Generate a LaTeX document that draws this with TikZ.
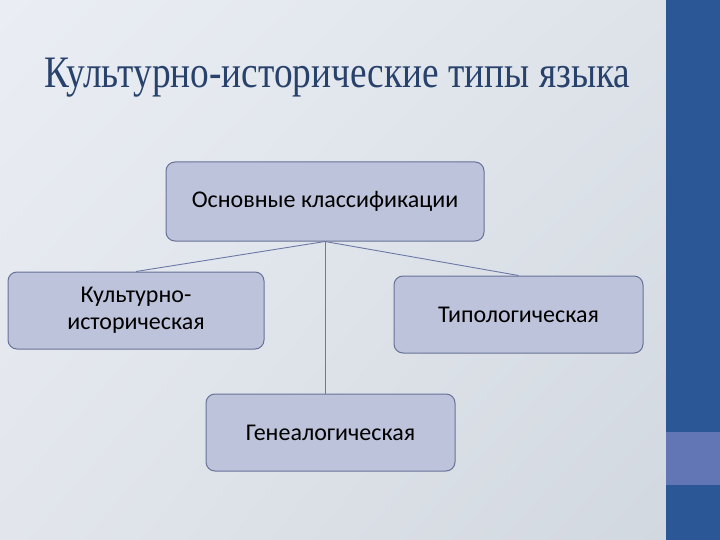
\documentclass[tikz,border=0pt]{standalone}
\usepackage{fontspec}
\usetikzlibrary{shadings}
\setmainfont{Carlito}
\newfontfamily\titlefont{Liberation Serif}

\definecolor{bgtl}{RGB}{234,238,244}
\definecolor{bgtr}{RGB}{222,227,234}
\definecolor{bgbl}{RGB}{226,230,236}
\definecolor{bgbr}{RGB}{210,216,224}
\definecolor{barblue}{RGB}{43,87,151}
\definecolor{barlight}{RGB}{98,117,181}
\definecolor{titleblue}{RGB}{40,66,108}
\definecolor{boxfill}{RGB}{189,195,218}
\definecolor{boxline}{RGB}{104,114,152}
\definecolor{linkline}{RGB}{108,120,166}

\tikzset{
  klass/.style={draw=boxline, fill=boxfill, rounded corners=9pt, line width=1pt,
    inner sep=0pt, align=center, font=\fontsize{24}{27}\selectfont},
  link/.style={draw=linkline, line width=0.9pt}
}

\begin{document}
\begin{tikzpicture}[x=1pt,y=-1pt]
\shade[upper left=bgtl, upper right=bgtr, lower left=bgbl, lower right=bgbr]
  (0,0) rectangle (666,540);
\fill[barblue] (666,0) rectangle (720,540);
\fill[barlight] (666,432) rectangle (720,485);
\useasboundingbox (0,0) rectangle (720,540);

\node[anchor=base west, inner sep=0pt, text=titleblue,
  font=\titlefont\fontsize{45}{50}\selectfont] (title) at (44,88)
  {\resizebox{586pt}{\height}{Культурно-исторические типы языка}};

\node[klass, minimum width=318pt, minimum height=79pt] (osn) at (325,201.5)
  {Основные классификации};
\node[klass, minimum width=256pt, minimum height=77pt] (kult) at (136,310.5)
  {Культурно-\\историческая};
\node[klass, minimum width=249pt, minimum height=77pt] (tip) at (518.5,314.5)
  {Типологическая};
\node[klass, minimum width=249pt, minimum height=77pt] (gen) at (330.5,432.5)
  {Генеалогическая};

\draw[link] (osn.south) -- (kult.north);
\draw[link] (osn.south) -- (tip.north);
\draw[link] (osn.south) -- (osn.south |- gen.north);
\end{tikzpicture}
\end{document}
